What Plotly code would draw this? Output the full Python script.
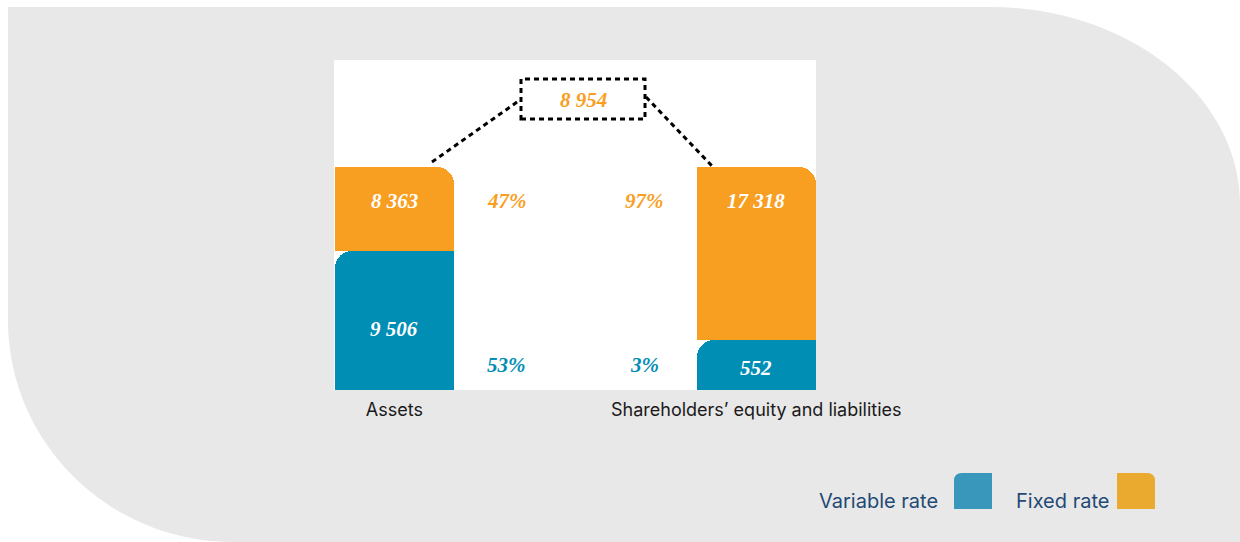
import plotly.graph_objects as go

# ---- data ----------------------------------------------------------------
categories = ["Assets", "Shareholders’ equity and liabilities"]
variable_rate = [9506, 552]
fixed_rate = [8363, 17318]
series_names = ["Variable rate", "Fixed rate"]

# ---- styling -------------------------------------------------------------
W, H = 1240, 542
ML, MR, MT, MB = 334, 424, 60, 152
ORANGE = "#F89E20"
BLUE = "#018EB5"
LEG_BLUE = "#3A97BC"
LEG_ORANGE = "#EAAA30"
NAVY = "#1F4A75"
GREY = "#E8E8E8"
NUM_FONT = "Liberation Serif"
TXT_FONT = "Inter"

AXIS_FLOOR = -4430          # bottom of the value axis
AXIS_SPAN = 33000
BAR_W = 0.329
X_RANGE = [-0.167, 1.165]
RADIUS_PX = 17

PW, PH = W - ML - MR, H - MT - MB
RADIUS_Y = RADIUS_PX * AXIS_SPAN / PH   # corner radius in value units


def px(x):
    """pixel x -> paper fraction"""
    return (x - ML) / PW


def py(y):
    """pixel y (from top) -> paper fraction"""
    return (H - MB - y) / PH


def fmt(v):
    return f"{v:,}".replace(",", " ")


totals = [v + f for v, f in zip(variable_rate, fixed_rate)]
gap_value = variable_rate[0] - variable_rate[1]

fig = go.Figure()


def add_segment(bottoms, tops, color, name, square_side):
    """Bar with a single rounded top corner; the other corners are squared
    by same-coloured bars underneath the rounded one."""
    heights = [t - b for b, t in zip(bottoms, tops)]
    # body without the rounded band
    fig.add_trace(go.Bar(
        x=categories, y=[h - RADIUS_Y for h in heights], base=bottoms,
        width=BAR_W, marker=dict(color=color, line_width=0),
        hoverinfo="skip", showlegend=False))
    # half-width full-height bar keeps one top corner square
    fig.add_trace(go.Bar(
        x=categories, y=heights, base=bottoms, width=BAR_W / 2,
        offset=-BAR_W / 2 if square_side == "left" else 0,
        marker=dict(color=color, line_width=0),
        hoverinfo="skip", showlegend=False))
    # rounded bar
    fig.add_trace(go.Bar(
        x=categories, y=heights, base=bottoms, width=BAR_W,
        marker=dict(color=color, cornerradius=RADIUS_PX, line_width=0),
        name=name, hoverinfo="skip", showlegend=False))


# variable-rate bars from the axis floor, fixed-rate bars stacked above
add_segment([AXIS_FLOOR] * 2, variable_rate, BLUE, series_names[0], "right")
add_segment(variable_rate, totals, ORANGE, series_names[1], "left")

annotations = []
num_font = dict(family=NUM_FONT, size=21, weight="bold", style="italic")


def note(x, y, text, font, xref="x", yref="y", xanchor="center"):
    annotations.append(dict(x=x, y=y, xref=xref, yref=yref, text=text,
                            showarrow=False, xanchor=xanchor, yanchor="middle",
                            font=font))


for i, cat in enumerate(categories):
    # value labels inside bars
    note(cat, totals[i] - 3400, fmt(fixed_rate[i]), dict(num_font, color="white"))
    note(cat, AXIS_FLOOR + 0.44 * (variable_rate[i] - AXIS_FLOOR),
         fmt(variable_rate[i]), dict(num_font, color="white"))

# shares of each total, placed beside the bars
pct_x = [0.31, 0.69]
for i in range(2):
    note(pct_x[i], totals[0] - 3400,
         f"{round(100 * fixed_rate[i] / totals[i])}%", dict(num_font, color=ORANGE))
    note(pct_x[i], py(365),
         f"{round(100 * variable_rate[i] / totals[i])}%", dict(num_font, color=BLUE),
         yref="paper")

# gap callout
note(px(583), py(100), fmt(gap_value), dict(num_font, color=ORANGE),
     xref="paper", yref="paper")

# legend
leg_font = dict(family=TXT_FONT, size=20, color=NAVY)
note(px(940), py(501), series_names[0], leg_font, "paper", "paper", "right")
note(px(1111), py(501), series_names[1], leg_font, "paper", "paper", "right")


def path(points_cmds):
    out = []
    for cmd, pts in points_cmds:
        coords = " ".join(f"{px(x):.5f},{py(y):.5f}" for x, y in pts)
        out.append(f"{cmd}{coords}")
    return " ".join(out) + " Z"


k = 0.5523
# rounded grey backdrop
bg_path = path([
    ("M", [(8, 7)]),
    ("L", [(990, 7)]),
    ("C", [(990 + 250 * k, 7), (1240, 205 - 198 * k), (1240, 205)]),
    ("L", [(1240, 542)]),
    ("L", [(233, 542)]),
    ("C", [(233 - 225 * k, 542), (8, 320 + 222 * k), (8, 320)]),
])

r = 8
leg_blue = path([
    ("M", [(954, 509)]), ("L", [(954, 473 + r)]),
    ("Q", [(954, 473), (954 + r, 473)]),
    ("L", [(992, 473)]), ("L", [(992, 509)]),
])
leg_orange = path([
    ("M", [(1117, 509)]), ("L", [(1117, 473)]),
    ("L", [(1155 - r, 473)]),
    ("Q", [(1155, 473), (1155, 473 + r)]),
    ("L", [(1155, 509)]),
])

dash = dict(color="black", width=3, dash="5px,4px")
shapes = [
    dict(type="path", path=bg_path, xref="paper", yref="paper",
         fillcolor=GREY, line_width=0, layer="below"),
    dict(type="rect", x0=0, x1=1, y0=0, y1=1, xref="paper", yref="paper",
         fillcolor="white", line_width=0, layer="below"),
    dict(type="rect", x0=px(521), x1=px(645), y0=py(119), y1=py(79),
         xref="paper", yref="paper", line=dash),
    dict(type="line", x0=px(432), y0=py(162), x1=px(520), y1=py(100),
         xref="paper", yref="paper", line=dash),
    dict(type="line", x0=px(646), y0=py(97), x1=px(712), y1=py(166),
         xref="paper", yref="paper", line=dash),
    dict(type="path", path=leg_blue, xref="paper", yref="paper",
         fillcolor=LEG_BLUE, line_width=0),
    dict(type="path", path=leg_orange, xref="paper", yref="paper",
         fillcolor=LEG_ORANGE, line_width=0),
]

fig.update_layout(
    width=W, height=H,
    margin=dict(l=ML, r=MR, t=MT, b=MB),
    paper_bgcolor="white", plot_bgcolor="rgba(0,0,0,0)",
    barmode="overlay", bargap=0,
    showlegend=False,
    annotations=annotations, shapes=shapes,
    xaxis=dict(range=X_RANGE, showgrid=False, zeroline=False, showline=False,
               ticks="", tickfont=dict(family=TXT_FONT, size=18, color="#1A1A1A"),
               ticklabelstandoff=7, fixedrange=True),
    yaxis=dict(range=[AXIS_FLOOR, AXIS_FLOOR + AXIS_SPAN], visible=False,
               fixedrange=True),
)

fig.write_html("out.html", config={"displayModeBar": False})
